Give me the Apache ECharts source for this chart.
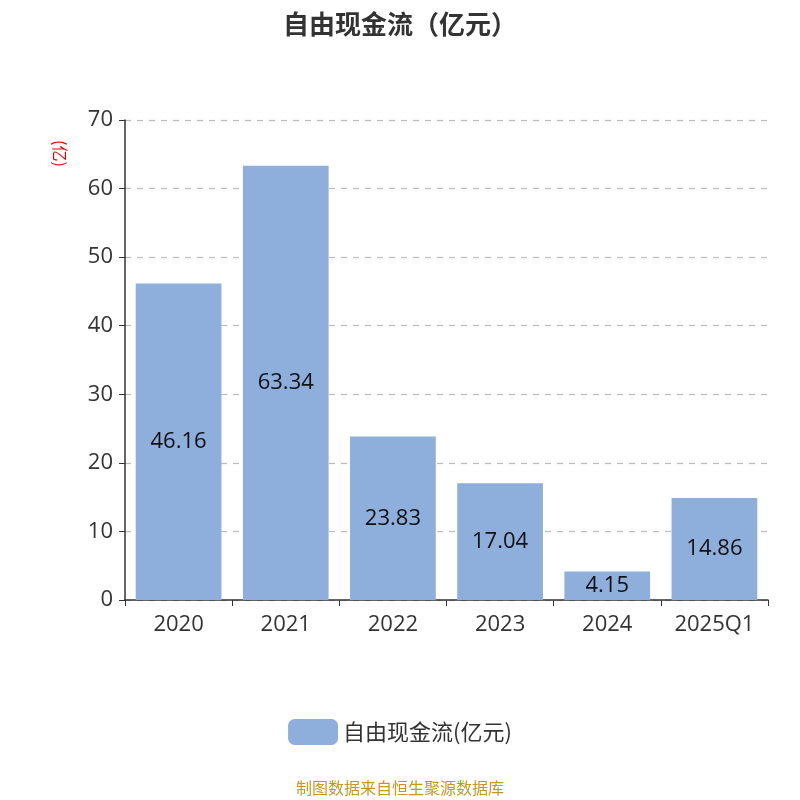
<!DOCTYPE html>
<html><head><meta charset="utf-8">
<script src="https://cdn.jsdelivr.net/npm/echarts@6/dist/echarts.min.js"></script>
<style>html,body{margin:0;padding:0}#c{width:800px;height:800px}</style>
</head><body><div id="c"></div>
<script>
const categories = ['2020','2021','2022','2023','2024','2025Q1'];
const values = [46.16, 63.34, 23.83, 17.04, 4.15, 14.86];
const yTicks = [0,10,20,30,40,50,60,70];
const chart = echarts.init(document.getElementById('c'));
chart.setOption({
  animation:false,
  title:{text:'自由现金流（亿元）',left:'center',top:6,textStyle:{fontSize:26,fontWeight:'bold',color:'#333',fontFamily:'Noto Sans CJK SC'}},
  grid:{left:125,right:32,top:120,bottom:200},
  legend:{bottom:50,itemWidth:50,itemHeight:26,itemGap:10,textStyle:{fontSize:22,color:'#333',fontFamily:'Noto Sans CJK SC'},data:['自由现金流(亿元)']},
  xAxis:{type:'category',data:categories,
    axisLine:{lineStyle:{color:'#333',width:1.5}},
    axisTick:{show:true,length:6,lineStyle:{color:'#333'}},
    axisLabel:{fontSize:22,color:'#333',margin:14,fontFamily:'Open Sans'}},
  yAxis:{type:'value',min:yTicks[0],max:yTicks[yTicks.length-1],interval:10,
    axisLine:{show:true,lineStyle:{color:'#333',width:1.5}},
    axisTick:{show:true,length:6,lineStyle:{color:'#333'}},
    axisLabel:{fontSize:22,color:'#333',margin:12,fontFamily:'Open Sans'},
    splitLine:{lineStyle:{type:[6,6],color:'#bbb',width:1.2}}},
  graphic:[
    {type:'text',left:52,top:140,rotation:-Math.PI/2,style:{text:'(亿)',fill:'#e00',fontSize:16,fontFamily:'Noto Sans CJK SC'}},
    {type:'text',left:'center',top:780,style:{text:'制图数据来自恒生聚源数据库',fill:'#c8961e',fontSize:16,fontFamily:'Noto Sans CJK SC'}}
  ],
  series:[{name:'自由现金流(亿元)',type:'bar',data:values,barWidth:'80%',
    itemStyle:{color:'#8eaedb'},
    label:{show:true,position:'inside',fontSize:22,color:'#111',fontFamily:'Open Sans'}}]
});
</script></body></html>
